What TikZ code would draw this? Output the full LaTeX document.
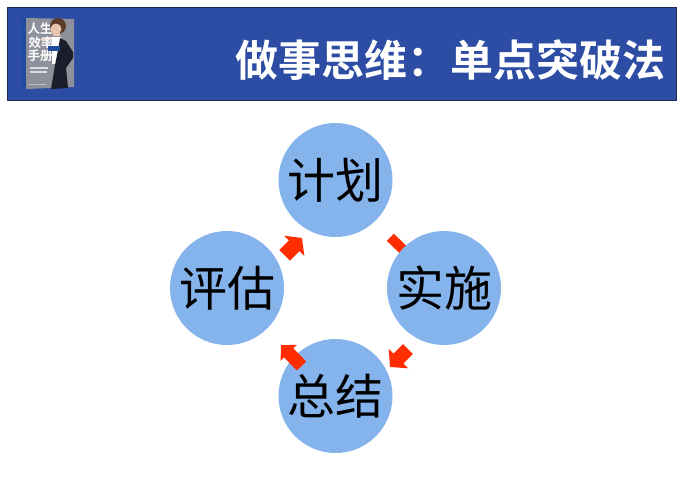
\documentclass[tikz,border=0pt]{standalone}
\usepackage{fontspec}
\newfontfamily\cjk{Noto Sans CJK SC}
\newfontfamily\cjkb{Noto Sans CJK SC Bold}
\usetikzlibrary{arrows.meta}
\definecolor{bannerblue}{HTML}{2C4DA3}
\definecolor{bannerline}{HTML}{1B2A55}
\definecolor{circleblue}{HTML}{85B3EC}
\definecolor{arrowred}{HTML}{FF2D00}
\definecolor{coverspine}{HTML}{1F4C9C}
\definecolor{covergrey}{HTML}{8E919B}
\definecolor{jacket}{HTML}{1B1E2A}
\definecolor{skin}{HTML}{E9C4AE}
\definecolor{hair}{HTML}{5A3A28}
\tikzset{
  stepcircle/.style={circle,fill=circleblue,minimum size=114pt,inner sep=0pt,font=\cjk\fontsize{48}{48}\selectfont,text=black},
  blockarrow/.style={draw=arrowred,line width=#1},
  coverword/.style={font=\cjkb\fontsize{12.5}{13}\selectfont,text=white,inner sep=0pt}
}
\begin{document}
\begin{tikzpicture}[x=1pt,y=-1pt]
\useasboundingbox (0,0) rectangle (695,480);
\fill[white] (0,0) rectangle (695,480);
% banner
\draw[fill=bannerblue,draw=bannerline,line width=1pt] (7,7) rectangle (676,100);
\node[font=\cjkb\fontsize{43}{44}\selectfont,text=white,inner sep=0pt,anchor=east] (title) at (666,60) {做事思维：单点突破法};
% book cover
\fill[coverspine] (21,20) -- (26,18) -- (26,89) -- (22,90) -- cycle;
\fill[covergrey] (26,18) -- (74,19) -- (74,87) -- (26,89) -- cycle;
\draw[skin,line width=2pt] (41,40) -- (51,38);
\fill[white] (52,37) -- (61,37) -- (61,64) -- (52,64) -- cycle;
\fill[jacket] (60,38) -- (66,41) -- (73,52) -- (73,58) -- (66,68) -- (68,88) -- (51,89) -- (55,65) -- (58,50) -- cycle;
\node[coverword] (cover1) at (40,29) {人生};
\node[coverword] (cover2) at (41,43) {效率};
\node[coverword] (cover3) at (40,56) {手册};
\fill[coverspine] (48,46) rectangle (60,51);
\fill[hair] (58,26) circle (8);
\fill[skin] (56,29) circle (5.5);
\fill[skin] (60,36) rectangle (53,33);
\fill[white,opacity=.7] (30,67) rectangle (48,68.5);
\fill[white,opacity=.7] (30,71) rectangle (47,72.5);
\fill[white,opacity=.4] (29,84) rectangle (46,85);
% arrow end points
\coordinate (a1s) at (390.3,237.3);
\coordinate (a1e) at (418,264);
\coordinate (a2s) at (408,349);
\coordinate (a2e) at (390,367);
\coordinate (a3s) at (301.5,366);
\coordinate (a3e) at (281,345);
\coordinate (a4s) at (284.7,255.3);
\coordinate (a4e) at (302,238);
\draw[blockarrow=10pt] (a1s) -- (a1e);
% circles
\node[stepcircle] (plan) at (335.5,180) {计划};
\node[stepcircle] (act) at (444,288) {实施};
\node[stepcircle] (sum) at (335.5,396) {总结};
\node[stepcircle] (eval) at (227,288) {评估};
\draw[blockarrow=14pt,-{Triangle[length=12pt,width=27pt,fill=arrowred]}] (a2s) -- (a2e);
\draw[blockarrow=13pt,-{Triangle[length=11pt,width=22pt,fill=arrowred]}] (a3s) -- (a3e);
\draw[blockarrow=15pt,-{Triangle[length=11pt,width=28pt,fill=arrowred]}] (a4s) -- (a4e);
\end{tikzpicture}
\end{document}
